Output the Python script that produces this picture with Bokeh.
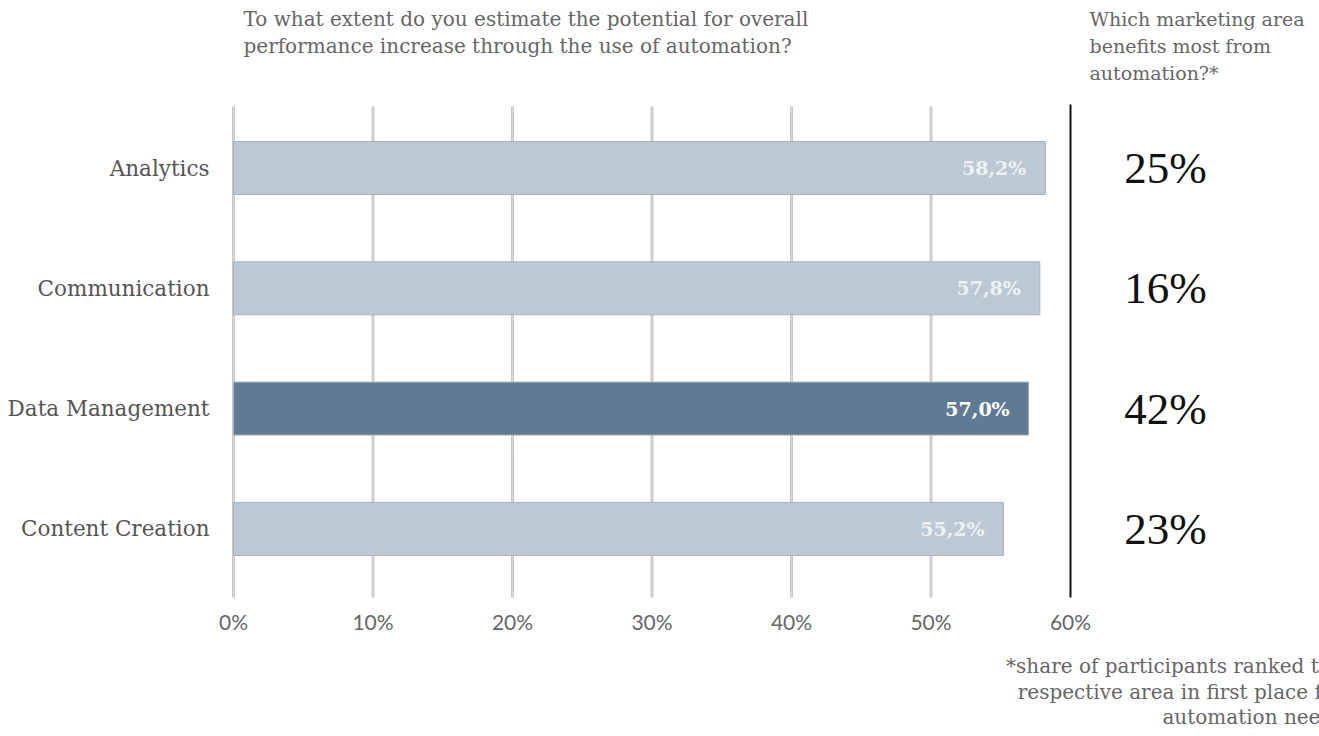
from bokeh.plotting import figure
from bokeh.models import Range1d, ColumnDataSource
from bokeh.core.properties import value
from bokeh.embed import file_html
from bokeh.resources import INLINE

# ---- data ----
categories = ["Analytics", "Communication", "Data Management", "Content Creation"]
potential = [58.2, 57.8, 57.0, 55.2]
potential_labels = ["58,2%", "57,8%", "57,0%", "55,2%"]
benefit_share = ["25%", "16%", "42%", "23%"]
highlight = [False, False, True, False]
x_ticks = [0, 10, 20, 30, 40, 50, 60]
x_tick_labels = ["0%", "10%", "20%", "30%", "40%", "50%", "60%"]
title_left = ["To what extent do you estimate the potential for overall",
              "performance increase through the use of automation?"]
title_right = ["Which marketing area", "benefits most from", "automation?*"]
footnote = ["*share of participants ranked the", "respective area in first place for",
            "automation needs"]

W, H = 1319, 736
# layout: 0% at px 233, 60% at px 1070
PX0, PX60 = 233.0, 1070.0
ppu = (PX60 - PX0) / 60.0
# categories: index 0 centred at px 167.5, step 120.3 px
CY0, CSTEP = 167.5, 120.3

def xd(px):
    return (px - PX0) / ppu

def yd(py):
    return (py - CY0) / CSTEP

p = figure(width=W, height=H, output_backend="svg", toolbar_location=None,
           x_range=Range1d(xd(0), xd(W)), y_range=Range1d(yd(H), yd(0)),
           min_border=0, outline_line_color=None)
p.axis.visible = False
p.grid.visible = False
p.background_fill_color = "white"
p.border_fill_color = "white"

idx = list(range(len(categories)))
y_top = yd(104)
y_bot = yd(597)

# gridlines
grid_x = x_ticks[:-1]
p.segment(x0=grid_x, x1=grid_x, y0=[yd(106)] * len(grid_x), y1=[y_bot] * len(grid_x),
          line_color="#c6c6c6", line_width=3)
p.segment(x0=grid_x, x1=grid_x, y0=[yd(106)] * len(grid_x), y1=[y_bot] * len(grid_x),
          line_color="#dadada", line_width=1)

# bars
colors = ["#5f7b93" if h else "#bcc9d4" for h in highlight]
src = ColumnDataSource(dict(y=idx, right=potential, color=colors, lab=potential_labels,
                            cat=categories, share=benefit_share,
                            tc=["#ffffff" if h else "#eef1f4" for h in highlight]))
p.hbar(y="y", left=0, right="right", height=53 / CSTEP, fill_color="color",
       line_color="#a9b2ba", line_width=1, source=src)

# black separator line at 60%
p.segment(x0=[60], x1=[60], y0=[y_top], y1=[y_bot], line_color="#111111", line_width=2)

# value labels inside bars
p.text(x="right", y="y", text="lab", source=src, x_offset=-19, text_align="right",
       text_baseline="middle", text_font=value("DejaVu Serif"), text_font_size="19px",
       text_font_style="bold", text_color="tc")

# category labels
p.text(x=[xd(209)] * 4, y=idx, text=categories, text_align="right", text_baseline="middle",
       text_font=value("DejaVu Serif"), text_font_size="21.5px", text_color="#555555")

# right side shares
p.text(x=[xd(1165)] * 4, y=idx, text=benefit_share, text_align="center",
       text_baseline="middle", text_font=value("Liberation Serif"), text_font_size="45px",
       text_color="#111111")

# x tick labels
p.text(x=x_ticks, y=[yd(621)] * len(x_ticks), text=x_tick_labels, text_align="center",
       text_baseline="middle", text_font=value("Lato"), text_font_size="21px",
       text_color="#666666")

# titles
p.text(x=[xd(243)] * 2, y=[yd(18), yd(45)], text=title_left, text_align="left",
       text_baseline="middle", text_font=value("DejaVu Serif"), text_font_size="20px",
       text_color="#666666")
p.text(x=[xd(1089)] * 3, y=[yd(18), yd(45), yd(72)], text=title_right, text_align="left",
       text_baseline="middle", text_font=value("DejaVu Serif"), text_font_size="19px",
       text_color="#666666")

# footnote (cut at the right edge, as in the source image)
p.text(x=[xd(1343)] * 3, y=[yd(665), yd(691), yd(716)], text=footnote, text_align="right",
       text_baseline="middle", text_font=value("DejaVu Serif"), text_font_size="20px",
       text_color="#666666")

open("out.html", "w").write(file_html(p, INLINE))
